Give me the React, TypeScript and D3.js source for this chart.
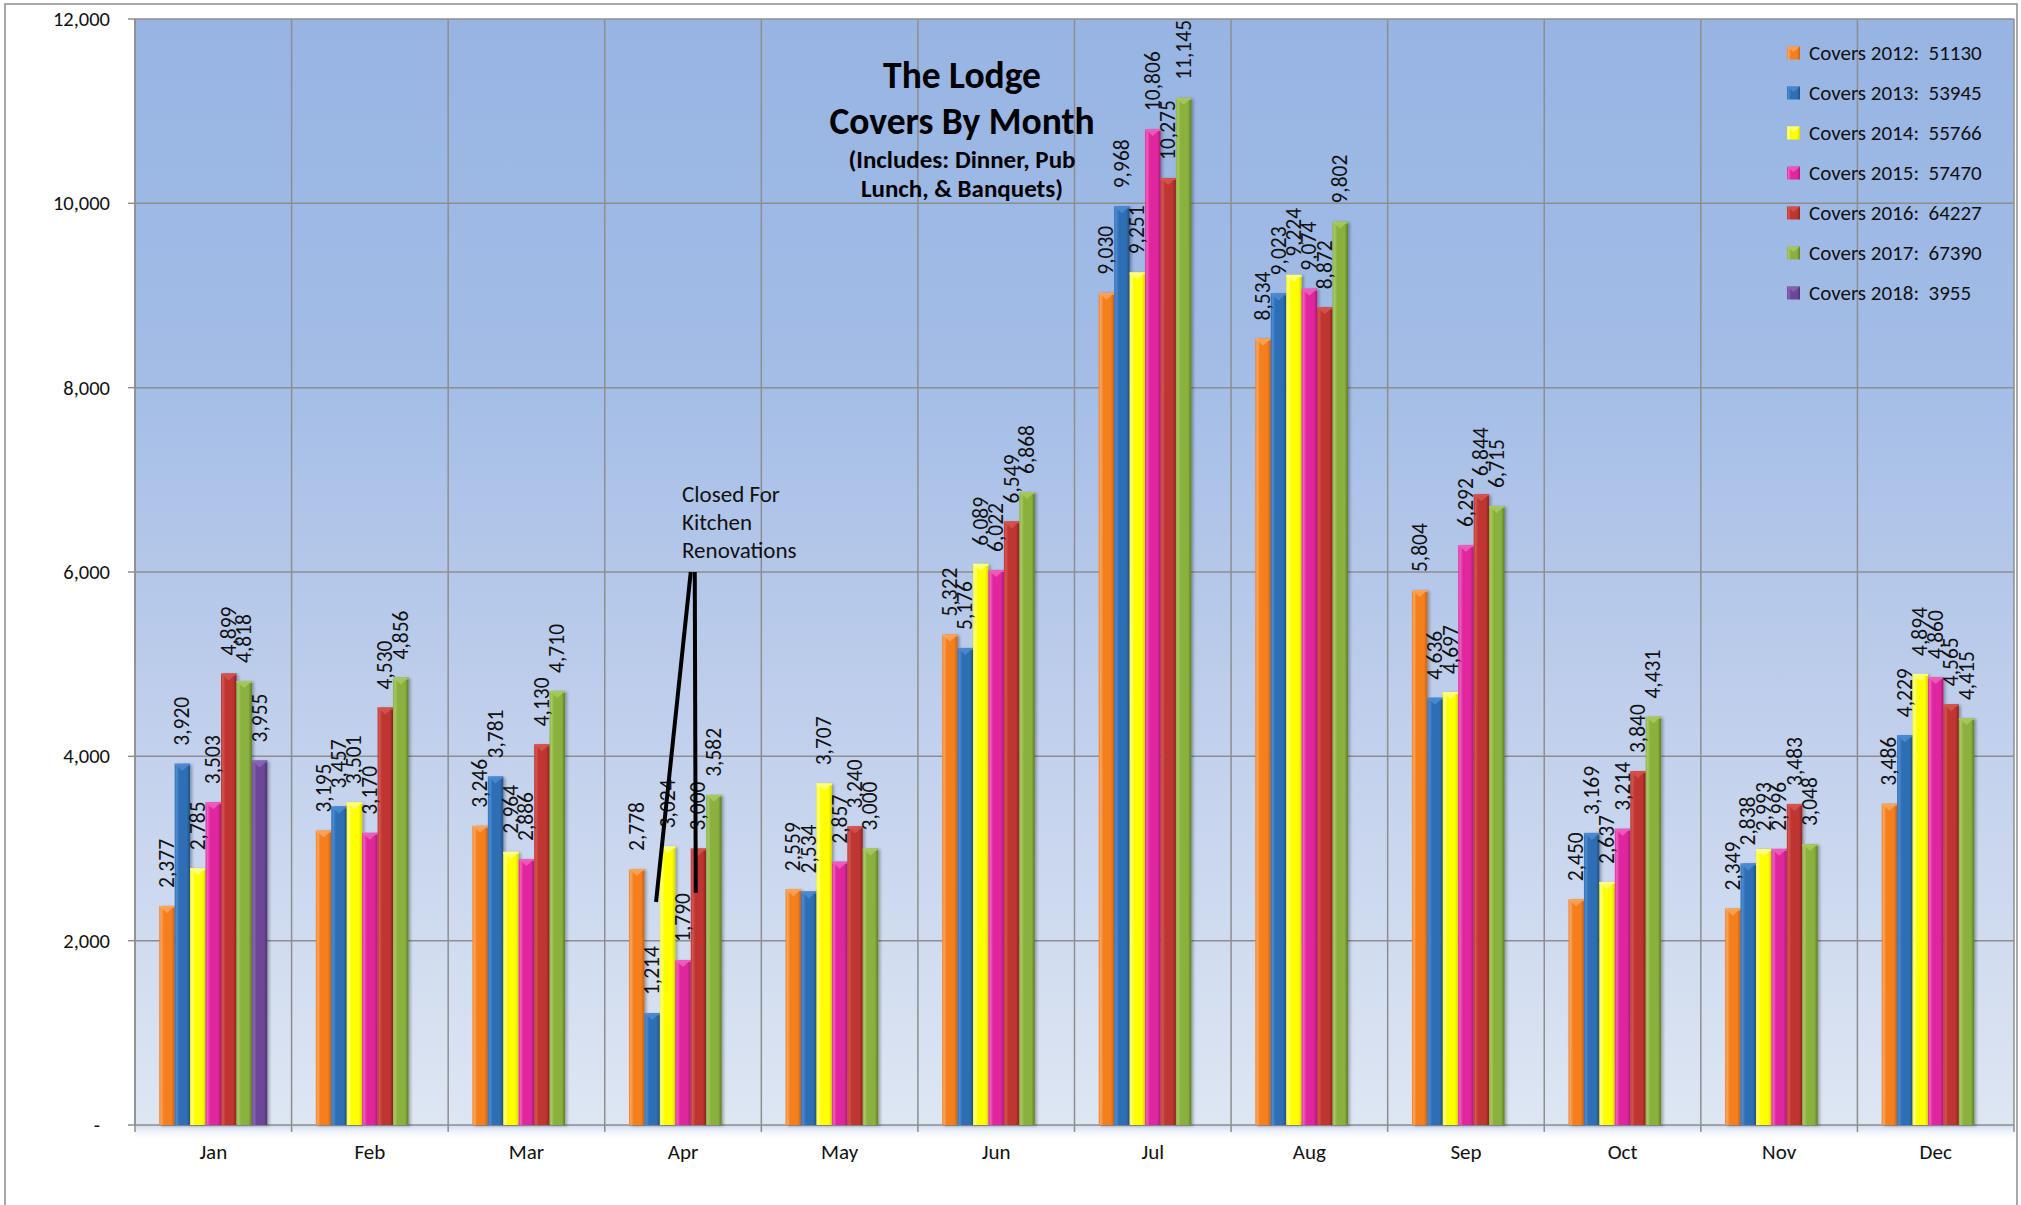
import React from 'react';
import * as d3 from 'd3';

const months = ['Jan', 'Feb', 'Mar', 'Apr', 'May', 'Jun', 'Jul', 'Aug', 'Sep', 'Oct', 'Nov', 'Dec'];
const seriesNames = ['Covers 2012', 'Covers 2013', 'Covers 2014', 'Covers 2015', 'Covers 2016', 'Covers 2017', 'Covers 2018'];
const covers2012 = [2377, 3195, 3246, 2778, 2559, 5322, 9030, 8534, 5804, 2450, 2349, 3486];
const covers2013 = [3920, 3457, 3781, 1214, 2534, 5176, 9968, 9023, 4636, 3169, 2838, 4229];
const covers2014 = [2785, 3501, 2964, 3024, 3707, 6089, 9251, 9224, 4697, 2637, 2993, 4894];
const covers2015 = [3503, 3170, 2886, 1790, 2857, 6022, 10806, 9074, 6292, 3214, 2996, 4860];
const covers2016 = [4899, 4530, 4130, 3000, 3240, 6549, 10275, 8872, 6844, 3840, 3483, 4565];
const covers2017 = [4818, 4856, 4710, 3582, 3000, 6868, 11145, 9802, 6715, 4431, 3048, 4415];
const covers2018 = [3955, null, null, null, null, null, null, null, null, null, null, null];
const yTicks = [0, 2000, 4000, 6000, 8000, 10000, 12000];
const titleLines = ['The Lodge', 'Covers By Month'];
const subtitleLines = ['(Includes: Dinner, Pub', 'Lunch, & Banquets)'];
const noteLines = ['Closed For', 'Kitchen', 'Renovations'];
const noteMonth = 'Apr';
const noteTopValue = 6000;
const noteEndValues = [2420, 2520];

const allSeries = [covers2012, covers2013, covers2014, covers2015, covers2016, covers2017, covers2018];

const palette = [
  { base: '#F47F1F', light: '#F9A55E', dark: '#C4621A' },
  { base: '#2F6EB5', light: '#4C8BD2', dark: '#224F85' },
  { base: '#FFFF00', light: '#FFFF8A', dark: '#D6D600' },
  { base: '#E0279E', light: '#EE60BC', dark: '#A81C76' },
  { base: '#BE3430', light: '#D4554F', dark: '#8A2422' },
  { base: '#8AB13E', light: '#A8C862', dark: '#5E7D27' },
  { base: '#6D4797', light: '#8966B2', dark: '#4E3370' },
];

const W = 2021;
const H = 1205;
const FONT = "Calibri, Carlito, Lato, 'Open Sans', sans-serif";

export default function App() {
  const x = d3.scaleBand<string>().domain(months).range([135, 2014]).paddingInner(0).paddingOuter(0);
  const y = d3.scaleLinear().domain([0, 12000]).range([1125, 19]);
  const groupW = x.bandwidth() * 0.69;
  const inner = d3.scaleBand<string>().domain(seriesNames).range([0, groupW]).padding(0);
  const bw = inner.bandwidth();
  const groupLeft = (m: string) => (x(m) as number) + (x.bandwidth() - groupW) / 2;
  const fmt = d3.format(',');
  const totals = allSeries.map((s) => d3.sum(s.filter((v) => v != null) as number[]));

  const boundaries = months.map((m) => x(m) as number).concat([x.range()[1]]);

  const noteGroup = groupLeft(noteMonth);
  const slot = (i: number) => noteGroup + (inner(seriesNames[i]) as number);
  const noteX1 = slot(4);
  const noteTopY = y(noteTopValue);

  return (
    <svg width={W} height={H} style={{ position: 'absolute', left: 0, top: 0, background: '#fff' }} fontFamily={FONT}>
      <defs>
        <linearGradient id="plotBg" x1="0" y1="0" x2="0" y2="1">
          <stop offset="0" stopColor="#97B4E3" />
          <stop offset="0.3" stopColor="#A2BCE6" />
          <stop offset="0.6" stopColor="#BDCDEB" />
          <stop offset="1" stopColor="#DEE6F3" />
        </linearGradient>
        <linearGradient id="axisShadow" x1="0" y1="0" x2="0" y2="1">
          <stop offset="0" stopColor="#C9D6EE" stopOpacity="0.9" />
          <stop offset="1" stopColor="#FFFFFF" stopOpacity="0" />
        </linearGradient>
        {palette.map((p, i) => (
          <linearGradient key={i} id={`bar${i}`} x1="0" y1="0" x2="1" y2="0">
            <stop offset="0" stopColor={p.base} />
            <stop offset="0.12" stopColor={p.light} />
            <stop offset="0.3" stopColor={p.base} />
            <stop offset="0.78" stopColor={p.base} />
            <stop offset="1" stopColor={p.dark} />
          </linearGradient>
        ))}
        <filter id="shadow" x="-20%" y="-5%" width="150%" height="115%">
          <feDropShadow dx="2" dy="1" stdDeviation="1.5" floodColor="#000" floodOpacity="0.3" />
        </filter>
      </defs>

      {/* outer frame */}
      <rect x={5} y={4} width={2012} height={1215} fill="#fff" stroke="#8C8C8C" strokeWidth={1.5} />

      {/* plot area */}
      <rect x={x.range()[0]} y={y(12000)} width={x.range()[1] - x.range()[0]} height={y(0) - y(12000)} fill="url(#plotBg)" />
      <rect x={x.range()[0]} y={y(0)} width={x.range()[1] - x.range()[0]} height={16} fill="url(#axisShadow)" />

      {/* gridlines */}
      {yTicks.map((t) => (
        <line key={`h${t}`} x1={x.range()[0]} x2={x.range()[1]} y1={y(t)} y2={y(t)} stroke="#8E8E8E" strokeWidth={1.5} />
      ))}
      {boundaries.map((b, i) => (
        <line key={`v${i}`} x1={b} x2={b} y1={y(12000)} y2={y(0) + 7} stroke="#8E8E8E" strokeWidth={1.5} />
      ))}
      {/* y axis */}
      <line x1={x.range()[0]} x2={x.range()[0]} y1={y(12000)} y2={y(0)} stroke="#8E8E8E" strokeWidth={1.5} />
      {yTicks.map((t) => (
        <line key={`yt${t}`} x1={128} x2={x.range()[0]} y1={y(t)} y2={y(t)} stroke="#8E8E8E" strokeWidth={1.5} />
      ))}
      {yTicks.map((t) => (
        <text key={`yl${t}`} x={t === 0 ? 100 : 110} y={y(t)} textAnchor="end" dominantBaseline="central" fontSize={20.5} fill="#111">
          {t === 0 ? '-' : fmt(t)}
        </text>
      ))}

      {/* x labels */}
      {months.map((m) => (
        <text key={`xl${m}`} x={(x(m) as number) + x.bandwidth() / 2} y={1159} textAnchor="middle" fontSize={21} fill="#111">
          {m}
        </text>
      ))}

      {/* bars */}
      {months.map((m, mi) => (
        <g key={`g${m}`}>
          {allSeries.map((s, si) => {
            const v = s[mi];
            if (v == null) return null;
            const bx = groupLeft(m) + (inner(seriesNames[si]) as number);
            const by = y(v);
            const p = palette[si];
            const capH = Math.min(7, y(0) - by);
            return (
              <g key={`b${si}`}>
                <rect x={bx} y={by} width={bw} height={y(0) - by} fill={`url(#bar${si})`} filter="url(#shadow)" />
                <rect x={bx} y={by} width={bw} height={2} fill={p.light} opacity={0.9} />
                <polygon points={`${bx + 1},${by + 1} ${bx + bw - 1},${by + 1} ${bx + bw / 2},${by + capH}`} fill={p.light} opacity={0.85} />
              </g>
            );
          })}
        </g>
      ))}

      {/* data labels */}
      {months.map((m, mi) => (
        <g key={`l${m}`}>
          {allSeries.map((s, si) => {
            const v = s[mi];
            if (v == null) return null;
            const cx = groupLeft(m) + (inner(seriesNames[si]) as number) + bw / 2;
            const ly = y(v) - 18;
            return (
              <text key={`t${si}`} transform={`translate(${cx},${ly}) rotate(-90)`} textAnchor="start" dominantBaseline="central" fontSize={21.5} fill="#111">
                {fmt(v)}
              </text>
            );
          })}
        </g>
      ))}

      {/* title */}
      <g textAnchor="middle" fontWeight="bold" fill="#000">
        <text x={962} y={88} fontSize={37.5}>{titleLines[0]}</text>
        <text x={962} y={134} fontSize={37.5}>{titleLines[1]}</text>
        <text x={962} y={168} fontSize={25}>{subtitleLines[0]}</text>
        <text x={962} y={197} fontSize={25}>{subtitleLines[1]}</text>
      </g>

      {/* annotation */}
      <g>
        {noteLines.map((t, i) => (
          <text key={`n${i}`} x={(x(noteMonth) as number) + x.bandwidth() / 2 - 1} y={noteTopY - 70 + i * 28} fontSize={23} fill="#111">
            {t}
          </text>
        ))}
        <line x1={noteX1} y1={noteTopY} x2={slot(1) + bw * 0.75} y2={y(noteEndValues[0])} stroke="#000" strokeWidth={4} />
        <line x1={noteX1 + 4} y1={noteTopY} x2={noteX1 + 5} y2={y(noteEndValues[1])} stroke="#000" strokeWidth={4} />
      </g>

      {/* legend */}
      <g>
        {seriesNames.map((n, i) => {
          const ly = 53 + i * 40;
          const p = palette[i];
          return (
            <g key={`lg${i}`}>
              <rect x={1787} y={ly - 6.5} width={13} height={13} fill={`url(#bar${i})`} />
              <polygon points={`${1787},${ly - 6.5} ${1800},${ly - 6.5} ${1793.5},${ly - 1}`} fill={p.light} opacity={0.85} />
              <text x={1809} y={ly} dominantBaseline="central" fontSize={21} fill="#111" style={{ whiteSpace: 'pre' }}>
                {`${n}:  ${totals[i]}`}
              </text>
            </g>
          );
        })}
      </g>
    </svg>
  );
}
